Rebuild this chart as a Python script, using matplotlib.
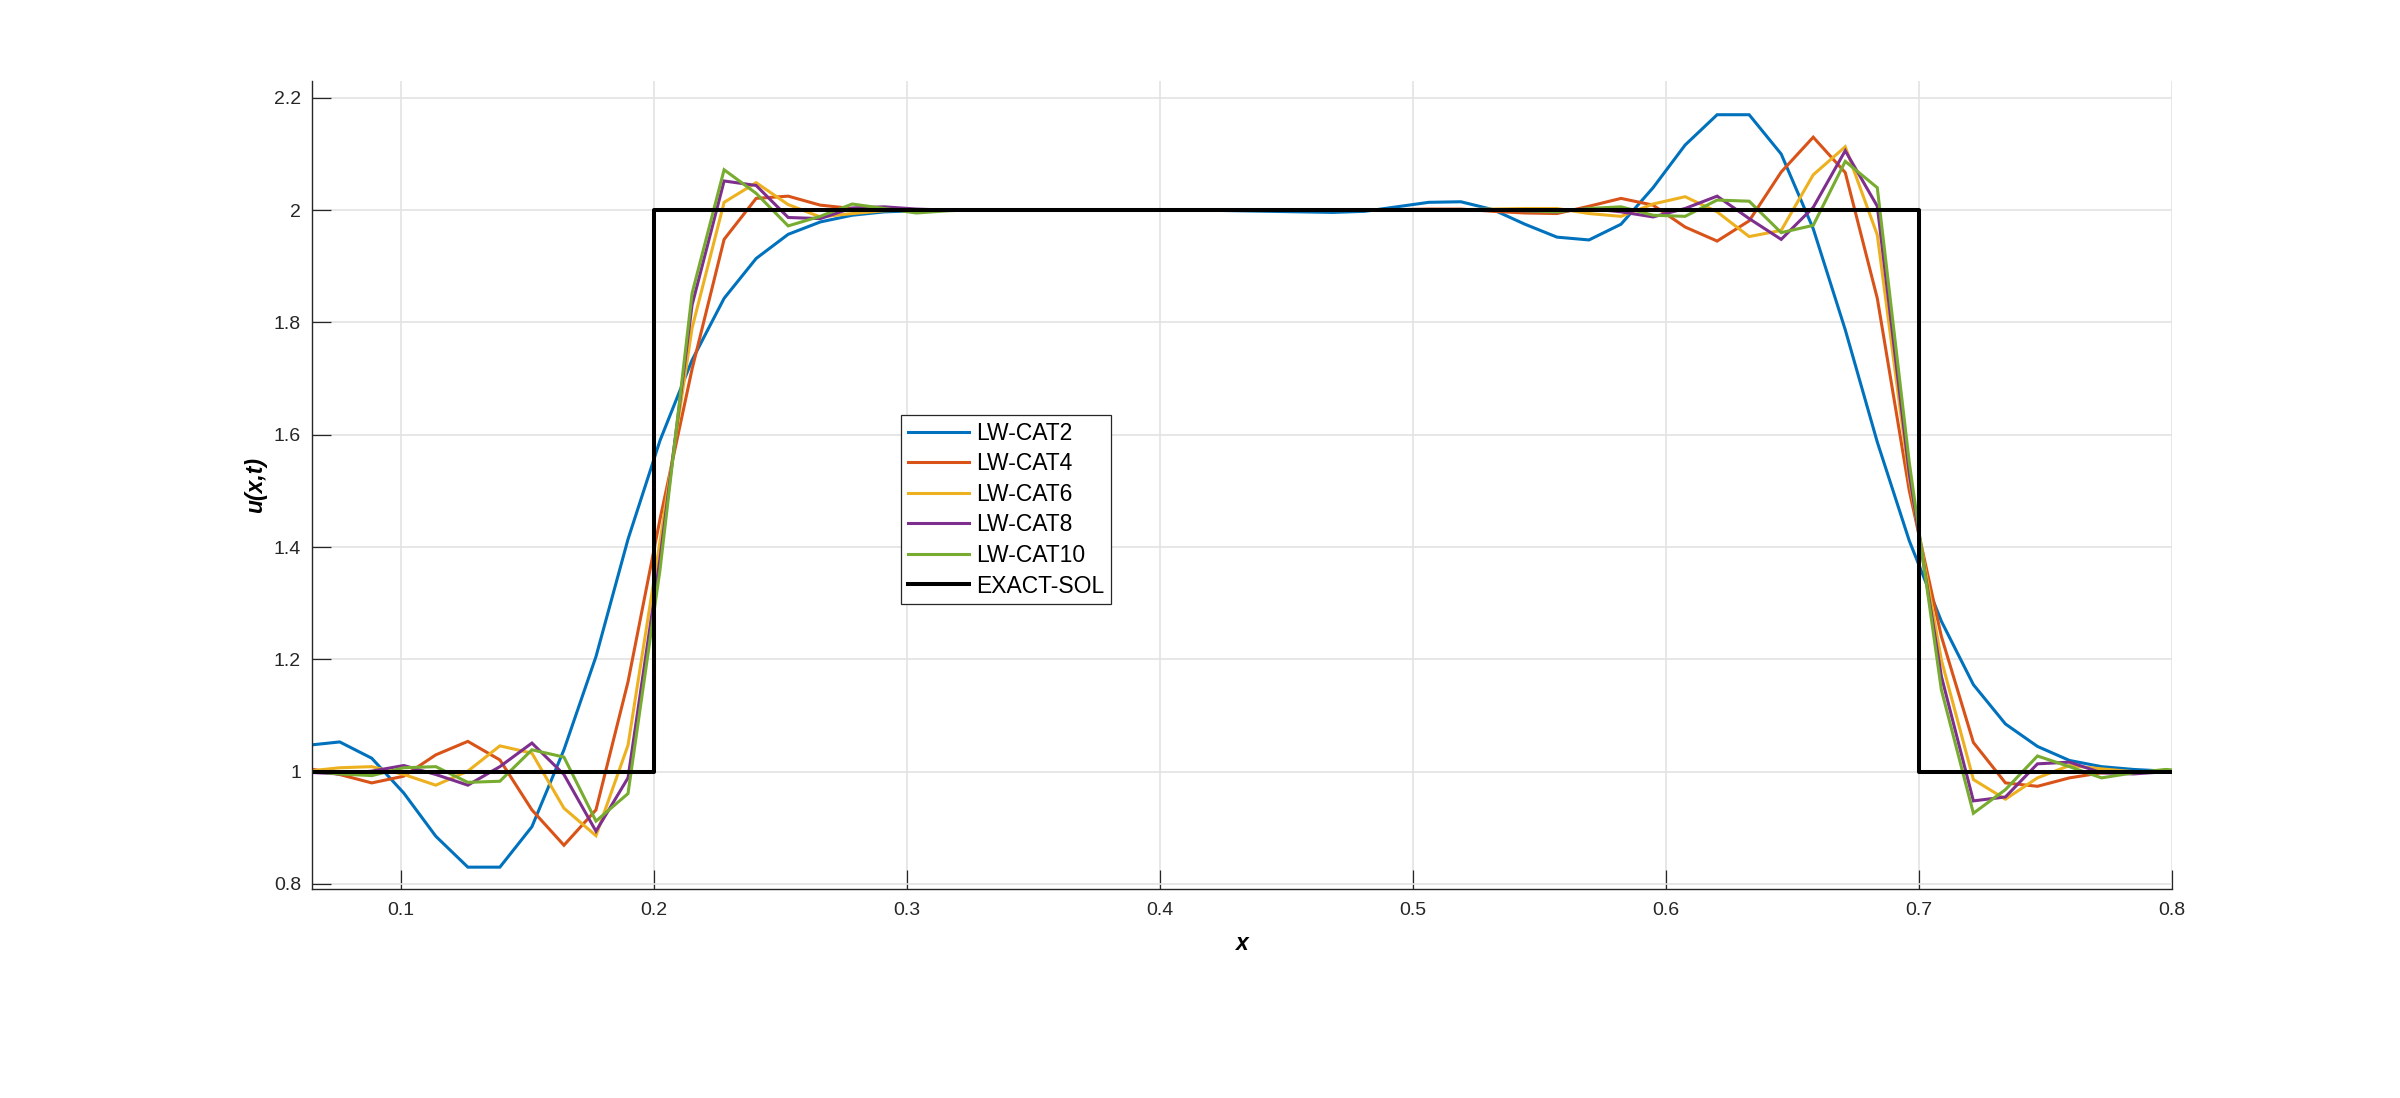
import numpy as np
import matplotlib
matplotlib.use("Agg")
import matplotlib.pyplot as plt

plt.rcParams["font.family"] = ["Liberation Sans", "DejaVu Sans"]

# grid nodes k = 5 .. 64 of a 80-point mesh on [0, 1]
x = np.linspace(0.0, 1.0, 80)[5:65]

cat2 = [1.047, 1.053, 1.024, 0.962, 0.885, 0.830, 0.830, 0.902, 1.039, 1.205,
        1.414, 1.590, 1.733, 1.843, 1.914, 1.957, 1.979, 1.991, 1.997, 1.999,
        2.000, 2.000, 2.000, 2.000, 2.000, 2.000, 2.000, 2.000, 2.000, 1.999,
        1.998, 1.997, 1.996, 1.998, 2.006, 2.014, 2.015, 2.001, 1.975, 1.952,
        1.947, 1.975, 2.040, 2.116, 2.170, 2.170, 2.100, 1.967, 1.787, 1.587,
        1.411, 1.268, 1.155, 1.085, 1.045, 1.020, 1.009, 1.004, 1.001, 1.000]

cat4 = [1.006, 0.995, 0.980, 0.992, 1.030, 1.054, 1.021, 0.932, 0.869, 0.932,
        1.160, 1.450, 1.717, 1.948, 2.021, 2.025, 2.009, 2.003, 2.000, 2.000,
        2.000, 2.000, 2.000, 2.000, 2.000, 2.000, 2.000, 2.000, 2.000, 2.000,
        2.000, 2.000, 2.000, 2.000, 2.001, 2.002, 2.002, 1.998, 1.995, 1.994,
        2.007, 2.021, 2.009, 1.970, 1.945, 1.981, 2.068, 2.130, 2.067, 1.843,
        1.500, 1.241, 1.052, 0.980, 0.974, 0.989, 0.998, 1.000, 1.000, 1.000]

cat6 = [1.001, 1.007, 1.009, 0.995, 0.976, 1.001, 1.046, 1.033, 0.935, 0.886,
        1.047, 1.410, 1.790, 2.014, 2.049, 2.010, 1.988, 1.994, 1.999, 2.000,
        2.000, 2.000, 2.000, 2.000, 2.000, 2.000, 2.000, 2.000, 2.000, 2.000,
        2.000, 2.000, 2.000, 2.000, 2.000, 2.000, 2.001, 2.002, 2.003, 2.003,
        1.994, 1.989, 2.011, 2.024, 1.997, 1.953, 1.964, 2.063, 2.113, 1.956,
        1.520, 1.199, 0.986, 0.951, 0.989, 1.011, 1.005, 1.000, 0.999, 1.000]

cat8 = [0.999, 0.996, 1.001, 1.011, 0.995, 0.976, 1.009, 1.051, 0.995, 0.894,
        0.989, 1.380, 1.831, 2.052, 2.044, 1.987, 1.985, 2.004, 2.006, 2.002,
        2.000, 2.000, 2.000, 2.000, 2.000, 2.000, 2.000, 2.000, 2.000, 2.000,
        2.000, 2.000, 2.000, 2.000, 2.000, 2.000, 2.000, 2.000, 1.999, 1.997,
        2.003, 1.997, 1.988, 2.003, 2.025, 1.985, 1.948, 2.005, 2.106, 2.007,
        1.530, 1.170, 0.948, 0.955, 1.014, 1.017, 0.998, 0.996, 1.000, 1.000]

cat10 = [1.001, 0.996, 0.993, 1.007, 1.009, 0.981, 0.983, 1.039, 1.026, 0.912,
         0.961, 1.360, 1.852, 2.072, 2.030, 1.972, 1.989, 2.011, 2.003, 1.995,
         1.999, 2.001, 2.000, 2.000, 2.000, 2.000, 2.000, 2.000, 2.000, 2.000,
         2.000, 2.000, 2.000, 2.000, 2.000, 2.000, 2.000, 2.000, 1.999, 1.997,
         2.003, 2.006, 1.991, 1.989, 2.018, 2.016, 1.960, 1.973, 2.087, 2.040,
         1.550, 1.146, 0.926, 0.968, 1.028, 1.009, 0.989, 0.998, 1.004, 1.000]

# exact solution: square pulse between 0.2 and 0.7
x_exact = [0.065, 0.2, 0.2, 0.7, 0.7, 0.8]
u_exact = [1.0, 1.0, 2.0, 2.0, 1.0, 1.0]

labels = ["LW-CAT2", "LW-CAT4", "LW-CAT6", "LW-CAT8", "LW-CAT10"]
colors = ["#0072BD", "#D95319", "#EDB120", "#7E2F8E", "#77AC30"]
xticks = [0.1, 0.2, 0.3, 0.4, 0.5, 0.6, 0.7, 0.8]
yticks = [0.8, 1.0, 1.2, 1.4, 1.6, 1.8, 2.0, 2.2]
ytick_labels = ["0.8", "1", "1.2", "1.4", "1.6", "1.8", "2", "2.2"]

DARK = "#262626"

fig = plt.figure(figsize=(24, 10.98), dpi=100)
ax = fig.add_axes([0.13, 0.1903, 0.775, 0.7359])

for u, lab, c in zip([cat2, cat4, cat6, cat8, cat10], labels, colors):
    ax.plot(x, u, color=c, lw=2.2, label=lab, solid_joinstyle="miter")
ax.plot(x_exact, u_exact, color="black", lw=2.9, label="EXACT-SOL")

ax.set_xlim(0.065, 0.8)
ax.set_ylim(0.791, 2.23)
ax.set_xticks(xticks)
ax.set_xticklabels([f"{t:g}" for t in xticks])
ax.set_yticks(yticks)
ax.set_yticklabels(ytick_labels)

ax.grid(True, color="#e3e3e3", lw=1.2)
ax.set_axisbelow(True)
for s in ("top", "right"):
    ax.spines[s].set_visible(False)
for s in ("left", "bottom"):
    ax.spines[s].set_color(DARK)
    ax.spines[s].set_linewidth(1.0)

ax.tick_params(direction="in", length=13.4, width=0.9, color=DARK,
               labelcolor=DARK, labelsize=14)
ax.tick_params(axis="x", pad=9.5)
ax.tick_params(axis="y", pad=8)

ax.set_xlabel("x", fontsize=16.5, weight="bold", style="italic", labelpad=9)
ax.set_ylabel("u(x,t)", fontsize=16.5, weight="bold", style="italic",
              labelpad=5)

leg = ax.legend(loc="upper left", bbox_to_anchor=(0.3756, 0.6222),
                bbox_transform=fig.transFigure, borderaxespad=0,
                fontsize=16.5, handlelength=2.66, handletextpad=0.3,
                labelspacing=0.33, borderpad=0.3, fancybox=False,
                framealpha=1, edgecolor=DARK)
leg.get_frame().set_linewidth(0.9)

fig.savefig("out.png", dpi=100, facecolor="white")
